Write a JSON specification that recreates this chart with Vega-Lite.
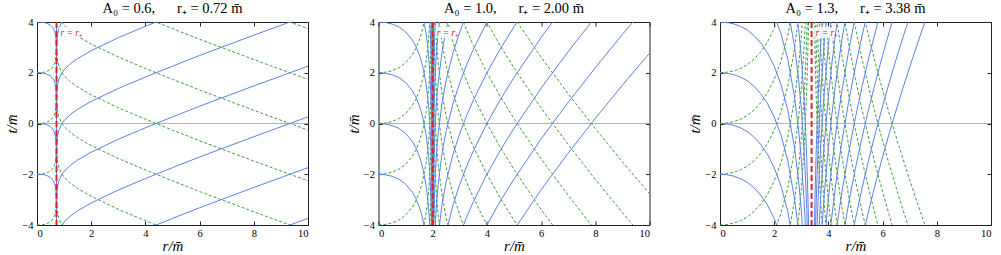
{
"$schema":"https://vega.github.io/schema/vega-lite/v6.json",
"padding":{"left":4,"top":0,"right":0,"bottom":0},
"config":{"view":{"stroke":"#222","strokeWidth":1},"concat":{"spacing":70.5},
"axis":{"domain":false,"grid":false,"tickSize":-4,"tickColor":"#222","labelFont":"Liberation Serif","labelFontSize":10.5,"labelColor":"black","titleFont":"Liberation Serif","titleFontSize":15,"titleFontStyle":"italic","titleFontWeight":"normal","titleColor":"black"},
"axisX":{"labelPadding":7,"titlePadding":0},"axisY":{"labelPadding":8,"titlePadding":2},
"title":{"font":"Liberation Serif","fontSize":14.5,"fontWeight":"normal","color":"black","offset":0.5}},
"bounds":"flush",
"datasets":{
"grids":[
{"g":"i1","r":[0,0.1,0.2,0.3,0.4,0.5,0.55,0.6,0.65,0.675,0.69,0.7,0.71,0.715,0.719,0.72]},
{"g":"e1","r":[0.72,0.7201,0.721,0.725,0.73,0.75,0.8,0.9,1,1.25,1.5,2,3,4,5,6,8,10]},
{"g":"i2","r":[0,0.25,0.5,0.75,1,1.25,1.375,1.5,1.58,1.65,1.75,1.8,1.85,1.9,1.95,1.98,1.99,1.995,1.999,2]},
{"g":"e2","r":[2,2.001,2.005,2.01,2.02,2.05,2.1,2.15,2.2,2.35,2.5,2.75,3,3.25,3.5,4,4.5,5,6,7,8,9,10]},
{"g":"i3","r":[0,0.25,0.5,0.75,1,1.25,1.5,1.75,2,2.25,2.5,2.75,2.9,3,3.1,3.15,3.2,3.25,3.3]},
{"g":"e3","r":[3.42,3.45,3.5,3.55,3.6,3.65,3.7,3.75,3.85,4,4.125,4.25,4.375,4.5,4.75,5,5.25,5.5,5.75,6,6.25,6.5,6.75,7,7.25,7.5,8]}
],
"curves":[
{"p":1,"g":"i1","f":"b","id":"1ib-2","t":[-2,-2,-2.01,-2.03,-2.07,-2.13,-2.18,-2.25,-2.37,-2.48,-2.58,-2.68,-2.85,-3.03,-3.45,-14]},
{"p":1,"g":"i1","f":"b","id":"1ib0","t":[0,0,-0.01,-0.03,-0.07,-0.13,-0.18,-0.25,-0.37,-0.48,-0.58,-0.68,-0.85,-1.03,-1.45,-12]},
{"p":1,"g":"i1","f":"b","id":"1ib2","t":[2,2,1.99,1.97,1.93,1.87,1.82,1.75,1.63,1.52,1.42,1.32,1.15,0.97,0.55,-10]},
{"p":1,"g":"i1","f":"b","id":"1ib4","t":[4,4,3.99,3.97,3.93,3.87,3.82,3.75,3.63,3.52,3.42,3.32,3.15,2.97,2.55,-8]},
{"p":1,"g":"i1","f":"b","id":"1ib6","t":[6,6,5.99,5.97,5.93,5.87,5.82,5.75,5.63,5.52,5.42,5.32,5.15,4.97,4.55,-6]},
{"p":1,"g":"i1","f":"g","id":"1ig-6","t":[-6,-6,-5.99,-5.97,-5.93,-5.87,-5.82,-5.75,-5.63,-5.52,-5.42,-5.32,-5.15,-4.97,-4.55,6]},
{"p":1,"g":"i1","f":"g","id":"1ig-4","t":[-4,-4,-3.99,-3.97,-3.93,-3.87,-3.82,-3.75,-3.63,-3.52,-3.42,-3.32,-3.15,-2.97,-2.55,8]},
{"p":1,"g":"i1","f":"g","id":"1ig-2","t":[-2,-2,-1.99,-1.97,-1.93,-1.87,-1.82,-1.75,-1.63,-1.52,-1.42,-1.32,-1.15,-0.97,-0.55,10]},
{"p":1,"g":"i1","f":"g","id":"1ig0","t":[0,0,0.01,0.03,0.07,0.13,0.18,0.25,0.37,0.48,0.58,0.68,0.85,1.03,1.45,12]},
{"p":1,"g":"i1","f":"g","id":"1ig2","t":[2,2,2.01,2.03,2.07,2.13,2.18,2.25,2.37,2.48,2.58,2.68,2.85,3.03,3.45,14]},
{"p":1,"g":"e1","f":"b","id":"1eb-8","t":[-20,-10.04,-9.45,-9.03,-8.85,-8.55,-8.28,-8.04,-7.88,-7.63,-7.44,-7.13,-6.62,-6.17,-5.74,-5.32,-4.52,-3.74]},
{"p":1,"g":"e1","f":"b","id":"1eb-6","t":[-18,-8.04,-7.45,-7.03,-6.85,-6.55,-6.28,-6.04,-5.88,-5.63,-5.44,-5.13,-4.62,-4.17,-3.74,-3.32,-2.52,-1.74]},
{"p":1,"g":"e1","f":"b","id":"1eb-4","t":[-16,-6.04,-5.45,-5.03,-4.85,-4.55,-4.28,-4.04,-3.88,-3.63,-3.44,-3.13,-2.62,-2.17,-1.74,-1.32,-0.52,0.26]},
{"p":1,"g":"e1","f":"b","id":"1eb-2","t":[-14,-4.04,-3.45,-3.03,-2.85,-2.55,-2.28,-2.04,-1.88,-1.63,-1.44,-1.13,-0.62,-0.17,0.26,0.68,1.48,2.26]},
{"p":1,"g":"e1","f":"b","id":"1eb0","t":[-12,-2.04,-1.45,-1.03,-0.85,-0.55,-0.28,-0.04,0.12,0.37,0.56,0.87,1.38,1.83,2.26,2.68,3.48,4.26]},
{"p":1,"g":"e1","f":"b","id":"1eb2","t":[-10,-0.04,0.55,0.97,1.15,1.45,1.72,1.96,2.12,2.37,2.56,2.87,3.38,3.83,4.26]},
{"p":1,"g":"e1","f":"b","id":"1eb4","t":[-8,1.96,2.55,2.97,3.15,3.45,3.72,3.96,4.12]},
{"p":1,"g":"e1","f":"g","id":"1eg-4","t":[8,-1.96,-2.55,-2.97,-3.15,-3.45,-3.72,-3.96,-4.12]},
{"p":1,"g":"e1","f":"g","id":"1eg-2","t":[10,0.04,-0.55,-0.97,-1.15,-1.45,-1.72,-1.96,-2.12,-2.37,-2.56,-2.87,-3.38,-3.83,-4.26]},
{"p":1,"g":"e1","f":"g","id":"1eg0","t":[12,2.04,1.45,1.03,0.85,0.55,0.28,0.04,-0.12,-0.37,-0.56,-0.87,-1.38,-1.83,-2.26,-2.68,-3.48,-4.26]},
{"p":1,"g":"e1","f":"g","id":"1eg2","t":[14,4.04,3.45,3.03,2.85,2.55,2.28,2.04,1.88,1.63,1.44,1.13,0.62,0.17,-0.26,-0.68,-1.48,-2.26]},
{"p":1,"g":"e1","f":"g","id":"1eg4","t":[16,6.04,5.45,5.03,4.85,4.55,4.28,4.04,3.88,3.63,3.44,3.13,2.62,2.17,1.74,1.32,0.52,-0.26]},
{"p":1,"g":"e1","f":"g","id":"1eg6","t":[18,8.04,7.45,7.03,6.85,6.55,6.28,6.04,5.88,5.63,5.44,5.13,4.62,4.17,3.74,3.32,2.52,1.74]},
{"p":1,"g":"e1","f":"g","id":"1eg8","t":[20,10.04,9.45,9.03,8.85,8.55,8.28,8.04,7.88,7.63,7.44,7.13,6.62,6.17,5.74,5.32,4.52,3.74]},
{"p":2,"g":"i2","f":"b","id":"2ib-2","t":[-2,-2.02,-2.08,-2.19,-2.39,-2.71,-2.95,-3.27,-3.54,-3.84,-4.41]},
{"p":2,"g":"i2","f":"b","id":"2ib0","t":[0,-0.02,-0.08,-0.19,-0.39,-0.71,-0.95,-1.27,-1.54,-1.84,-2.41,-2.81,-3.33,-4.09]},
{"p":2,"g":"i2","f":"b","id":"2ib2","t":[2,1.98,1.92,1.81,1.61,1.29,1.05,0.73,0.46,0.16,-0.41,-0.81,-1.33,-2.09,-3.43,-5.23]},
{"p":2,"g":"i2","f":"b","id":"2ib4","t":[4,3.98,3.92,3.81,3.61,3.29,3.05,2.73,2.46,2.16,1.59,1.19,0.67,-0.09,-1.43,-3.23,-4.61]},
{"p":2,"g":"i2","f":"b","id":"2ib6","t":[6,5.98,5.92,5.81,5.61,5.29,5.05,4.73,4.46,4.16,3.59,3.19,2.67,1.91,0.57,-1.23,-2.61,-3.99,-7.2]},
{"p":2,"g":"i2","f":"b","id":"2ib8","t":[8,7.98,7.92,7.81,7.61,7.29,7.05,6.73,6.46,6.16,5.59,5.19,4.67,3.91,2.57,0.77,-0.61,-1.99,-5.2]},
{"p":2,"g":"i2","f":"b","id":"2ib10","t":[10,9.98,9.92,9.81,9.61,9.29,9.05,8.73,8.46,8.16,7.59,7.19,6.67,5.91,4.57,2.77,1.39,0.01,-3.2,-20]},
{"p":2,"g":"i2","f":"g","id":"2ig2","t":[2,2.02,2.08,2.19,2.39,2.71,2.95,3.27,3.54,3.84,4.41]},
{"p":2,"g":"i2","f":"g","id":"2ig0","t":[0,0.02,0.08,0.19,0.39,0.71,0.95,1.27,1.54,1.84,2.41,2.81,3.33,4.09]},
{"p":2,"g":"i2","f":"g","id":"2ig-2","t":[-2,-1.98,-1.92,-1.81,-1.61,-1.29,-1.05,-0.73,-0.46,-0.16,0.41,0.81,1.33,2.09,3.43,5.23]},
{"p":2,"g":"i2","f":"g","id":"2ig-4","t":[-4,-3.98,-3.92,-3.81,-3.61,-3.29,-3.05,-2.73,-2.46,-2.16,-1.59,-1.19,-0.67,0.09,1.43,3.23,4.61]},
{"p":2,"g":"i2","f":"g","id":"2ig-6","t":[-6,-5.98,-5.92,-5.81,-5.61,-5.29,-5.05,-4.73,-4.46,-4.16,-3.59,-3.19,-2.67,-1.91,-0.57,1.23,2.61,3.99,7.2]},
{"p":2,"g":"i2","f":"g","id":"2ig-8","t":[-8,-7.98,-7.92,-7.81,-7.61,-7.29,-7.05,-6.73,-6.46,-6.16,-5.59,-5.19,-4.67,-3.91,-2.57,-0.77,0.61,1.99,5.2]},
{"p":2,"g":"i2","f":"g","id":"2ig-10","t":[-10,-9.98,-9.92,-9.81,-9.61,-9.29,-9.05,-8.73,-8.46,-8.16,-7.59,-7.19,-6.67,-5.91,-4.57,-2.77,-1.39,-0.01,3.2,20]},
{"p":2,"g":"e2","f":"b","id":"2eb10","t":[-20,-3.2,0.02,1.41,2.81,4.67]},
{"p":2,"g":"e2","f":"b","id":"2eb8","t":[-22,-5.2,-1.98,-0.59,0.81,2.67,4.11]},
{"p":2,"g":"e2","f":"b","id":"2eb6","t":[-24,-7.2,-3.98,-2.59,-1.19,0.67,2.11,2.97,3.59,4.86]},
{"p":2,"g":"e2","f":"b","id":"2eb4","t":[-26,-9.2,-5.98,-4.59,-3.19,-1.33,0.11,0.97,1.59,2.86,3.73,4.79]},
{"p":2,"g":"e2","f":"b","id":"2eb2","t":[-28,-11.2,-7.98,-6.59,-5.19,-3.33,-1.89,-1.03,-0.41,0.86,1.73,2.79,3.61,4.31]},
{"p":2,"g":"e2","f":"b","id":"2eb0","t":[-30,-13.2,-9.98,-8.59,-7.19,-5.33,-3.89,-3.03,-2.41,-1.14,-0.27,0.79,1.61,2.31,2.92,4,4.95]},
{"p":2,"g":"e2","f":"b","id":"2eb-2","t":[-32,-15.2,-11.98,-10.59,-9.19,-7.33,-5.89,-5.03,-4.41,-3.14,-2.27,-1.21,-0.39,0.31,0.92,2,2.95,3.81,5.39]},
{"p":2,"g":"e2","f":"b","id":"2eb-4","t":[-34,-17.2,-13.98,-12.59,-11.19,-9.33,-7.89,-7.03,-6.41,-5.14,-4.27,-3.21,-2.39,-1.69,-1.08,0,0.95,1.81,3.39,4.83]},
{"p":2,"g":"e2","f":"b","id":"2eb-6","t":[-36,-19.2,-15.98,-14.59,-13.19,-11.33,-9.89,-9.03,-8.41,-7.14,-6.27,-5.21,-4.39,-3.69,-3.08,-2,-1.05,-0.19,1.39,2.83,4.2]},
{"p":2,"g":"e2","f":"b","id":"2eb-8","t":[-38,-21.2,-17.98,-16.59,-15.19,-13.33,-11.89,-11.03,-10.41,-9.14,-8.27,-7.21,-6.39,-5.69,-5.08,-4,-3.05,-2.19,-0.61,0.83,2.2,3.51,4.77]},
{"p":2,"g":"e2","f":"b","id":"2eb-10","t":[-40,-23.2,-19.98,-18.59,-17.19,-15.33,-13.89,-13.03,-12.41,-11.14,-10.27,-9.21,-8.39,-7.69,-7.08,-6,-5.05,-4.19,-2.61,-1.17,0.2,1.51,2.77]},
{"p":2,"g":"e2","f":"g","id":"2eg-10","t":[20,3.2,-0.02,-1.41,-2.81,-4.67]},
{"p":2,"g":"e2","f":"g","id":"2eg-8","t":[22,5.2,1.98,0.59,-0.81,-2.67,-4.11]},
{"p":2,"g":"e2","f":"g","id":"2eg-6","t":[24,7.2,3.98,2.59,1.19,-0.67,-2.11,-2.97,-3.59,-4.86]},
{"p":2,"g":"e2","f":"g","id":"2eg-4","t":[26,9.2,5.98,4.59,3.19,1.33,-0.11,-0.97,-1.59,-2.86,-3.73,-4.79]},
{"p":2,"g":"e2","f":"g","id":"2eg-2","t":[28,11.2,7.98,6.59,5.19,3.33,1.89,1.03,0.41,-0.86,-1.73,-2.79,-3.61,-4.31]},
{"p":2,"g":"e2","f":"g","id":"2eg0","t":[30,13.2,9.98,8.59,7.19,5.33,3.89,3.03,2.41,1.14,0.27,-0.79,-1.61,-2.31,-2.92,-4,-4.95]},
{"p":2,"g":"e2","f":"g","id":"2eg2","t":[32,15.2,11.98,10.59,9.19,7.33,5.89,5.03,4.41,3.14,2.27,1.21,0.39,-0.31,-0.92,-2,-2.95,-3.81,-5.39]},
{"p":2,"g":"e2","f":"g","id":"2eg4","t":[34,17.2,13.98,12.59,11.19,9.33,7.89,7.03,6.41,5.14,4.27,3.21,2.39,1.69,1.08,0,-0.95,-1.81,-3.39,-4.83]},
{"p":2,"g":"e2","f":"g","id":"2eg6","t":[36,19.2,15.98,14.59,13.19,11.33,9.89,9.03,8.41,7.14,6.27,5.21,4.39,3.69,3.08,2,1.05,0.19,-1.39,-2.83,-4.2]},
{"p":2,"g":"e2","f":"g","id":"2eg8","t":[38,21.2,17.98,16.59,15.19,13.33,11.89,11.03,10.41,9.14,8.27,7.21,6.39,5.69,5.08,4,3.05,2.19,0.61,-0.83,-2.2,-3.51,-4.77]},
{"p":2,"g":"e2","f":"g","id":"2eg10","t":[40,23.2,19.98,18.59,17.19,15.33,13.89,13.03,12.41,11.14,10.27,9.21,8.39,7.69,7.08,6,5.05,4.19,2.61,1.17,-0.2,-1.51,-2.77]},
{"p":3,"g":"i3","f":"b","id":"3ib-2","t":[-2,-2.02,-2.07,-2.17,-2.31,-2.53,-2.82,-3.21,-3.74,-4.46]},
{"p":3,"g":"i3","f":"b","id":"3ib0","t":[0,-0.02,-0.07,-0.17,-0.31,-0.53,-0.82,-1.21,-1.74,-2.46,-3.46,-4.95]},
{"p":3,"g":"i3","f":"b","id":"3ib2","t":[2,1.98,1.93,1.83,1.69,1.47,1.18,0.79,0.26,-0.46,-1.46,-2.95,-4.25]},
{"p":3,"g":"i3","f":"b","id":"3ib4","t":[4,3.98,3.93,3.83,3.69,3.47,3.18,2.79,2.26,1.54,0.54,-0.95,-2.25,-3.41,-4.99]},
{"p":3,"g":"i3","f":"b","id":"3ib6","t":[6,5.98,5.93,5.83,5.69,5.47,5.18,4.79,4.26,3.54,2.54,1.05,-0.25,-1.41,-2.99,-4.03]},
{"p":3,"g":"i3","f":"b","id":"3ib8","t":[8,7.98,7.93,7.83,7.69,7.47,7.18,6.79,6.26,5.54,4.54,3.05,1.75,0.59,-0.99,-2.03,-3.34,-5.12]},
{"p":3,"g":"i3","f":"b","id":"3ib10","t":[10,9.98,9.93,9.83,9.69,9.47,9.18,8.79,8.26,7.54,6.54,5.05,3.75,2.59,1.01,-0.03,-1.34,-3.12,-5.81]},
{"p":3,"g":"i3","f":"g","id":"3ig2","t":[2,2.02,2.07,2.17,2.31,2.53,2.82,3.21,3.74,4.46]},
{"p":3,"g":"i3","f":"g","id":"3ig0","t":[0,0.02,0.07,0.17,0.31,0.53,0.82,1.21,1.74,2.46,3.46,4.95]},
{"p":3,"g":"i3","f":"g","id":"3ig-2","t":[-2,-1.98,-1.93,-1.83,-1.69,-1.47,-1.18,-0.79,-0.26,0.46,1.46,2.95,4.25]},
{"p":3,"g":"i3","f":"g","id":"3ig-4","t":[-4,-3.98,-3.93,-3.83,-3.69,-3.47,-3.18,-2.79,-2.26,-1.54,-0.54,0.95,2.25,3.41,4.99]},
{"p":3,"g":"i3","f":"g","id":"3ig-6","t":[-6,-5.98,-5.93,-5.83,-5.69,-5.47,-5.18,-4.79,-4.26,-3.54,-2.54,-1.05,0.25,1.41,2.99,4.03]},
{"p":3,"g":"i3","f":"g","id":"3ig-8","t":[-8,-7.98,-7.93,-7.83,-7.69,-7.47,-7.18,-6.79,-6.26,-5.54,-4.54,-3.05,-1.75,-0.59,0.99,2.03,3.34,5.12]},
{"p":3,"g":"i3","f":"g","id":"3ig-10","t":[-10,-9.98,-9.93,-9.83,-9.69,-9.47,-9.18,-8.79,-8.26,-7.54,-6.54,-5.05,-3.75,-2.59,-1.01,0.03,1.34,3.12,5.81]},
{"p":3,"g":"e3","f":"b","id":"3eb-10","t":[-29.56,-26.32,-23.15,-21.08,-19.52,-18.27,-17.21,-16.3,-14.76,-12.93,-11.67,-10.57,-9.59,-8.7,-7.13,-5.75,-4.51,-3.37,-2.31,-1.31,-0.37,0.53,1.39,2.22,3.03,3.81,5.31]},
{"p":3,"g":"e3","f":"b","id":"3eb-8","t":[-27.56,-24.32,-21.15,-19.08,-17.52,-16.27,-15.21,-14.3,-12.76,-10.93,-9.67,-8.57,-7.59,-6.7,-5.13,-3.75,-2.51,-1.37,-0.31,0.69,1.63,2.53,3.39,4.22]},
{"p":3,"g":"e3","f":"b","id":"3eb-6","t":[-25.56,-22.32,-19.15,-17.08,-15.52,-14.27,-13.21,-12.3,-10.76,-8.93,-7.67,-6.57,-5.59,-4.7,-3.13,-1.75,-0.51,0.63,1.69,2.69,3.63,4.53]},
{"p":3,"g":"e3","f":"b","id":"3eb-4","t":[-23.56,-20.32,-17.15,-15.08,-13.52,-12.27,-11.21,-10.3,-8.76,-6.93,-5.67,-4.57,-3.59,-2.7,-1.13,0.25,1.49,2.63,3.69,4.69]},
{"p":3,"g":"e3","f":"b","id":"3eb-2","t":[-21.56,-18.32,-15.15,-13.08,-11.52,-10.27,-9.21,-8.3,-6.76,-4.93,-3.67,-2.57,-1.59,-0.7,0.87,2.25,3.49,4.63]},
{"p":3,"g":"e3","f":"b","id":"3eb0","t":[-19.56,-16.32,-13.15,-11.08,-9.52,-8.27,-7.21,-6.3,-4.76,-2.93,-1.67,-0.57,0.41,1.3,2.87,4.25]},
{"p":3,"g":"e3","f":"b","id":"3eb2","t":[-17.56,-14.32,-11.15,-9.08,-7.52,-6.27,-5.21,-4.3,-2.76,-0.93,0.33,1.43,2.41,3.3,4.87]},
{"p":3,"g":"e3","f":"b","id":"3eb4","t":[-15.56,-12.32,-9.15,-7.08,-5.52,-4.27,-3.21,-2.3,-0.76,1.07,2.33,3.43,4.41]},
{"p":3,"g":"e3","f":"b","id":"3eb6","t":[-13.56,-10.32,-7.15,-5.08,-3.52,-2.27,-1.21,-0.3,1.24,3.07,4.33]},
{"p":3,"g":"e3","f":"b","id":"3eb8","t":[-11.56,-8.32,-5.15,-3.08,-1.52,-0.27,0.79,1.7,3.24,5.07]},
{"p":3,"g":"e3","f":"b","id":"3eb10","t":[-9.56,-6.32,-3.15,-1.08,0.48,1.73,2.79,3.7,5.24]},
{"p":3,"g":"e3","f":"g","id":"3eg10","t":[29.56,26.32,23.15,21.08,19.52,18.27,17.21,16.3,14.76,12.93,11.67,10.57,9.59,8.7,7.13,5.75,4.51,3.37,2.31,1.31,0.37,-0.53,-1.39,-2.22,-3.03,-3.81,-5.31]},
{"p":3,"g":"e3","f":"g","id":"3eg8","t":[27.56,24.32,21.15,19.08,17.52,16.27,15.21,14.3,12.76,10.93,9.67,8.57,7.59,6.7,5.13,3.75,2.51,1.37,0.31,-0.69,-1.63,-2.53,-3.39,-4.22]},
{"p":3,"g":"e3","f":"g","id":"3eg6","t":[25.56,22.32,19.15,17.08,15.52,14.27,13.21,12.3,10.76,8.93,7.67,6.57,5.59,4.7,3.13,1.75,0.51,-0.63,-1.69,-2.69,-3.63,-4.53]},
{"p":3,"g":"e3","f":"g","id":"3eg4","t":[23.56,20.32,17.15,15.08,13.52,12.27,11.21,10.3,8.76,6.93,5.67,4.57,3.59,2.7,1.13,-0.25,-1.49,-2.63,-3.69,-4.69]},
{"p":3,"g":"e3","f":"g","id":"3eg2","t":[21.56,18.32,15.15,13.08,11.52,10.27,9.21,8.3,6.76,4.93,3.67,2.57,1.59,0.7,-0.87,-2.25,-3.49,-4.63]},
{"p":3,"g":"e3","f":"g","id":"3eg0","t":[19.56,16.32,13.15,11.08,9.52,8.27,7.21,6.3,4.76,2.93,1.67,0.57,-0.41,-1.3,-2.87,-4.25]},
{"p":3,"g":"e3","f":"g","id":"3eg-2","t":[17.56,14.32,11.15,9.08,7.52,6.27,5.21,4.3,2.76,0.93,-0.33,-1.43,-2.41,-3.3,-4.87]},
{"p":3,"g":"e3","f":"g","id":"3eg-4","t":[15.56,12.32,9.15,7.08,5.52,4.27,3.21,2.3,0.76,-1.07,-2.33,-3.43,-4.41]},
{"p":3,"g":"e3","f":"g","id":"3eg-6","t":[13.56,10.32,7.15,5.08,3.52,2.27,1.21,0.3,-1.24,-3.07,-4.33]},
{"p":3,"g":"e3","f":"g","id":"3eg-8","t":[11.56,8.32,5.15,3.08,1.52,0.27,-0.79,-1.7,-3.24,-5.07]},
{"p":3,"g":"e3","f":"g","id":"3eg-10","t":[9.56,6.32,3.15,1.08,-0.48,-1.73,-2.79,-3.7,-5.24]}
]},
"hconcat":[
{"width":271,"height":203,"title":"A₀ = 0.6,\u2003\u2002r₊ = 0.72 m̄",
"layer":[
{"data":{"values":[{}]},"mark":{"type":"rule","color":"#b4b4b4","strokeWidth":1},"encoding":{"y":{"datum":0,"type":"quantitative","scale":{"domain":[-4,4],"nice":false},"axis":null}}},
{"data":{"name":"curves"},"transform":[{"filter":{"and":[{"field":"p","equal":1},{"field":"f","equal":"g"}]}},{"lookup":"g","from":{"data":{"name":"grids"},"key":"g","fields":["r"]}},{"flatten":["r","t"]}],
"mark":{"type":"line","clip":true,"color":"#3f9f3f","strokeWidth":1,"strokeDash":[3,2]},
"encoding":{"x":{"field":"r","type":"quantitative","scale":{"domain":[0,10],"nice":false},"axis":null},"y":{"field":"t","type":"quantitative","scale":{"domain":[-4,4],"nice":false},"axis":null},"detail":{"field":"id"}}},
{"data":{"name":"curves"},"transform":[{"filter":{"and":[{"field":"p","equal":1},{"field":"f","equal":"b"}]}},{"lookup":"g","from":{"data":{"name":"grids"},"key":"g","fields":["r"]}},{"flatten":["r","t"]}],
"mark":{"type":"line","clip":true,"color":"#5b82e3","strokeWidth":1},
"encoding":{"x":{"field":"r","type":"quantitative","scale":{"domain":[0,10],"nice":false},"axis":{"values":[0,2,4,6,8,10],"format":"d","title":"r/m̄"}},"y":{"field":"t","type":"quantitative","scale":{"domain":[-4,4],"nice":false},"axis":{"values":[-4,-2,0,2,4],"format":"d","title":"t/m̄"}},"detail":{"field":"id"}}},
{"data":{"values":[{}]},"mark":{"type":"rule","color":"#d62728","strokeWidth":2,"strokeDash":[6,3]},"encoding":{"x":{"datum":0.72,"type":"quantitative","axis":null}}},
{"data":{"values":[{}]},"mark":{"type":"rect","fill":"white","opacity":0.85},"encoding":{"x":{"datum":0.82,"type":"quantitative","axis":null},"x2":{"datum":1.55},"y":{"datum":3.36,"type":"quantitative","axis":null},"y2":{"datum":3.8}}},
{"data":{"values":[{}]},"mark":{"type":"text","color":"#d62728","font":"Liberation Serif","fontStyle":"italic","fontSize":9.5,"align":"left","baseline":"middle","dx":4},"encoding":{"x":{"datum":0.72,"type":"quantitative","axis":null},"y":{"datum":3.57,"type":"quantitative","axis":null},"text":{"value":"r = r₊"}}},
{"data":{"values":[{"r":0,"t":0}]},"mark":{"type":"point","opacity":0},"encoding":{"x":{"field":"r","type":"quantitative","axis":{"orient":"top","labels":false,"title":null,"values":[0,2,4,6,8,10]}},"y":{"field":"t","type":"quantitative","axis":{"orient":"right","labels":false,"title":null,"values":[-4,-2,0,2,4]}}}}
],"resolve":{"axis":{"x":"independent","y":"independent"}}},
{"width":271,"height":203,"title":"A₀ = 1.0,\u2003\u2002r₊ = 2.00 m̄",
"layer":[
{"data":{"values":[{}]},"mark":{"type":"rule","color":"#b4b4b4","strokeWidth":1},"encoding":{"y":{"datum":0,"type":"quantitative","scale":{"domain":[-4,4],"nice":false},"axis":null}}},
{"data":{"name":"curves"},"transform":[{"filter":{"and":[{"field":"p","equal":2},{"field":"f","equal":"g"}]}},{"lookup":"g","from":{"data":{"name":"grids"},"key":"g","fields":["r"]}},{"flatten":["r","t"]}],
"mark":{"type":"line","clip":true,"color":"#3f9f3f","strokeWidth":1,"strokeDash":[3,2]},
"encoding":{"x":{"field":"r","type":"quantitative","scale":{"domain":[0,10],"nice":false},"axis":null},"y":{"field":"t","type":"quantitative","scale":{"domain":[-4,4],"nice":false},"axis":null},"detail":{"field":"id"}}},
{"data":{"name":"curves"},"transform":[{"filter":{"and":[{"field":"p","equal":2},{"field":"f","equal":"b"}]}},{"lookup":"g","from":{"data":{"name":"grids"},"key":"g","fields":["r"]}},{"flatten":["r","t"]}],
"mark":{"type":"line","clip":true,"color":"#5b82e3","strokeWidth":1},
"encoding":{"x":{"field":"r","type":"quantitative","scale":{"domain":[0,10],"nice":false},"axis":{"values":[0,2,4,6,8,10],"format":"d","title":"r/m̄"}},"y":{"field":"t","type":"quantitative","scale":{"domain":[-4,4],"nice":false},"axis":{"values":[-4,-2,0,2,4],"format":"d","title":"t/m̄"}},"detail":{"field":"id"}}},
{"data":{"values":[{}]},"mark":{"type":"rule","color":"#d62728","strokeWidth":2,"strokeDash":[6,3]},"encoding":{"x":{"datum":2,"type":"quantitative","axis":null}}},
{"data":{"values":[{}]},"mark":{"type":"rect","fill":"white","opacity":0.85},"encoding":{"x":{"datum":2.1,"type":"quantitative","axis":null},"x2":{"datum":2.83},"y":{"datum":3.36,"type":"quantitative","axis":null},"y2":{"datum":3.8}}},
{"data":{"values":[{}]},"mark":{"type":"text","color":"#d62728","font":"Liberation Serif","fontStyle":"italic","fontSize":9.5,"align":"left","baseline":"middle","dx":4},"encoding":{"x":{"datum":2,"type":"quantitative","axis":null},"y":{"datum":3.57,"type":"quantitative","axis":null},"text":{"value":"r = r₊"}}},
{"data":{"values":[{"r":0,"t":0}]},"mark":{"type":"point","opacity":0},"encoding":{"x":{"field":"r","type":"quantitative","axis":{"orient":"top","labels":false,"title":null,"values":[0,2,4,6,8,10]}},"y":{"field":"t","type":"quantitative","axis":{"orient":"right","labels":false,"title":null,"values":[-4,-2,0,2,4]}}}}
],"resolve":{"axis":{"x":"independent","y":"independent"}}},
{"width":271,"height":203,"title":"A₀ = 1.3,\u2003\u2002r₊ = 3.38 m̄",
"layer":[
{"data":{"values":[{}]},"mark":{"type":"rule","color":"#b4b4b4","strokeWidth":1},"encoding":{"y":{"datum":0,"type":"quantitative","scale":{"domain":[-4,4],"nice":false},"axis":null}}},
{"data":{"name":"curves"},"transform":[{"filter":{"and":[{"field":"p","equal":3},{"field":"f","equal":"g"}]}},{"lookup":"g","from":{"data":{"name":"grids"},"key":"g","fields":["r"]}},{"flatten":["r","t"]}],
"mark":{"type":"line","clip":true,"color":"#3f9f3f","strokeWidth":1,"strokeDash":[3,2]},
"encoding":{"x":{"field":"r","type":"quantitative","scale":{"domain":[0,10],"nice":false},"axis":null},"y":{"field":"t","type":"quantitative","scale":{"domain":[-4,4],"nice":false},"axis":null},"detail":{"field":"id"}}},
{"data":{"name":"curves"},"transform":[{"filter":{"and":[{"field":"p","equal":3},{"field":"f","equal":"b"}]}},{"lookup":"g","from":{"data":{"name":"grids"},"key":"g","fields":["r"]}},{"flatten":["r","t"]}],
"mark":{"type":"line","clip":true,"color":"#5b82e3","strokeWidth":1},
"encoding":{"x":{"field":"r","type":"quantitative","scale":{"domain":[0,10],"nice":false},"axis":{"values":[0,2,4,6,8,10],"format":"d","title":"r/m̄"}},"y":{"field":"t","type":"quantitative","scale":{"domain":[-4,4],"nice":false},"axis":{"values":[-4,-2,0,2,4],"format":"d","title":"t/m̄"}},"detail":{"field":"id"}}},
{"data":{"values":[{}]},"mark":{"type":"rule","color":"#d62728","strokeWidth":2,"strokeDash":[6,3]},"encoding":{"x":{"datum":3.38,"type":"quantitative","axis":null}}},
{"data":{"values":[{}]},"mark":{"type":"rect","fill":"white","opacity":0.85},"encoding":{"x":{"datum":3.48,"type":"quantitative","axis":null},"x2":{"datum":4.21},"y":{"datum":3.36,"type":"quantitative","axis":null},"y2":{"datum":3.8}}},
{"data":{"values":[{}]},"mark":{"type":"text","color":"#d62728","font":"Liberation Serif","fontStyle":"italic","fontSize":9.5,"align":"left","baseline":"middle","dx":4},"encoding":{"x":{"datum":3.38,"type":"quantitative","axis":null},"y":{"datum":3.57,"type":"quantitative","axis":null},"text":{"value":"r = r₊"}}},
{"data":{"values":[{"r":0,"t":0}]},"mark":{"type":"point","opacity":0},"encoding":{"x":{"field":"r","type":"quantitative","axis":{"orient":"top","labels":false,"title":null,"values":[0,2,4,6,8,10]}},"y":{"field":"t","type":"quantitative","axis":{"orient":"right","labels":false,"title":null,"values":[-4,-2,0,2,4]}}}}
],"resolve":{"axis":{"x":"independent","y":"independent"}}}
]
}
